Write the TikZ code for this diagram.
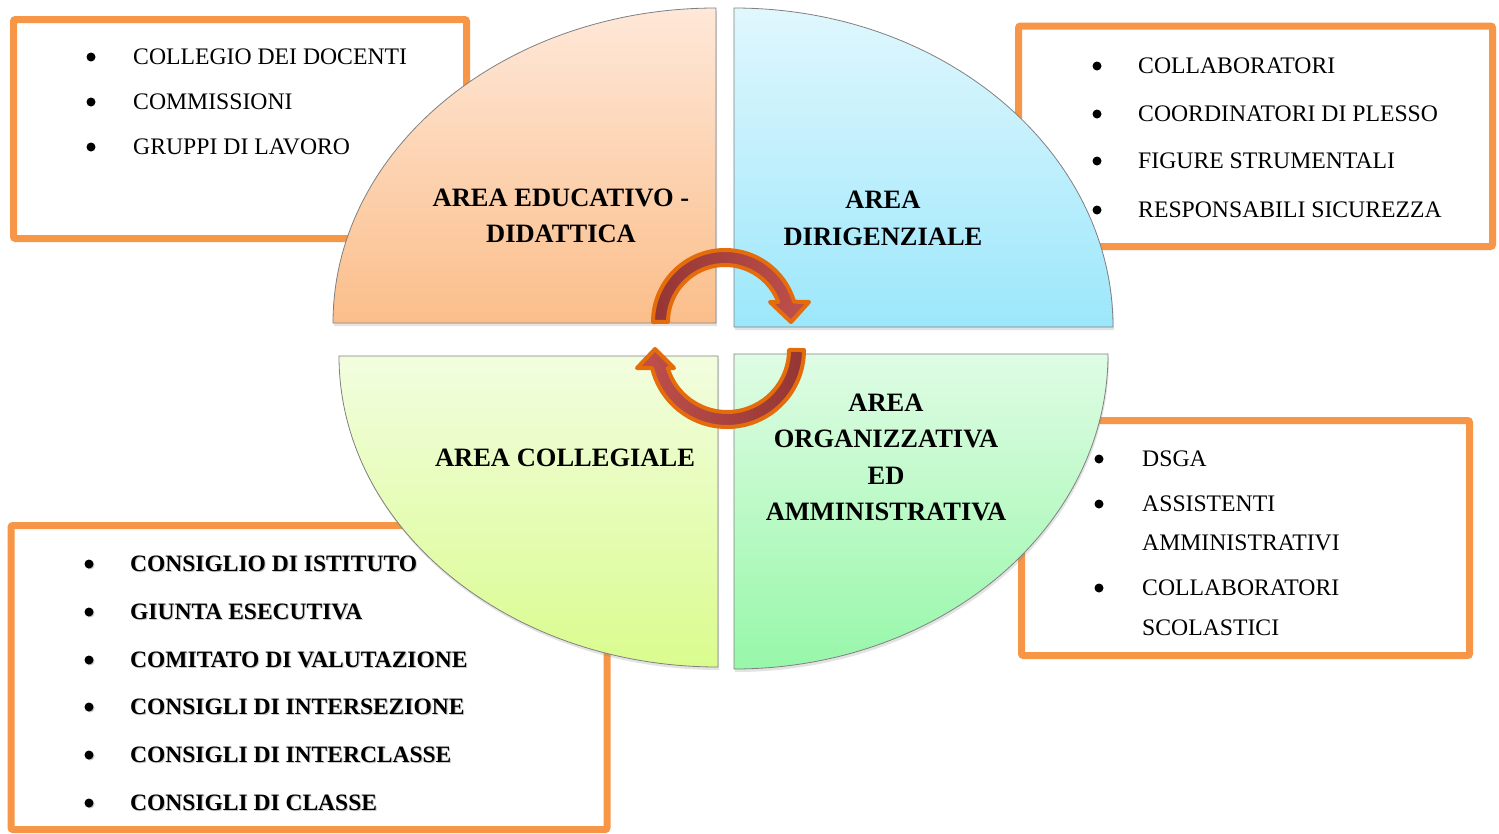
\documentclass[tikz,border=0pt]{standalone}
\usepackage{fontspec}
\setmainfont{Liberation Serif}
\usetikzlibrary{shadows}
\definecolor{boxorange}{HTML}{F79646}
\definecolor{arrowline}{HTML}{E46C0A}
\definecolor{arrowdark}{HTML}{943634}
\definecolor{arrowlight}{HTML}{C0504D}
\definecolor{tlTop}{HTML}{FEE8D9}
\definecolor{tlBot}{HTML}{FBBE8A}
\definecolor{trTop}{HTML}{E0F7FD}
\definecolor{trBot}{HTML}{9CE7FB}
\definecolor{blTop}{HTML}{F2FDDF}
\definecolor{blBot}{HTML}{DAFC8E}
\definecolor{brTop}{HTML}{DFFCE4}
\definecolor{brBot}{HTML}{97F7A9}
\tikzset{
  listbox/.style={draw=boxorange, line width=7pt, rounded corners=2pt},
  quadrant/.style={draw=black!50, line width=0.8pt,
     drop shadow={opacity=0.22, shadow xshift=1pt, shadow yshift=-3pt}},
  listitem/.style={anchor=base west, inner sep=0pt, font=\fontsize{23.7}{28}\selectfont},
  blistitem/.style={listitem, font=\bfseries\fontsize{23.5}{28}\selectfont},
  bshadow/.style={blistitem, text=black!22},
  arealabel/.style={align=center, inner sep=0pt, font=\bfseries\fontsize{26.5}{36.5}\selectfont},
  arrowband/.style={draw=arrowline, line width=4pt, line join=round},
}
\begin{document}
\begin{tikzpicture}[x=1pt,y=-1pt]
\useasboundingbox (0,0) rectangle (1499,833);
\fill[white] (0,0) rectangle (1499,833);

% list boxes
\draw[listbox] (13.5,19.5) rectangle (466.5,238.5);
\draw[listbox] (1018.5,26) rectangle (1492.5,246.5);
\draw[listbox] (1021.5,420.5) rectangle (1469.5,655.5);
\draw[listbox] (11,525.5) rectangle (607,829.5);

% quadrants
\path[quadrant, top color=tlTop, bottom color=tlBot]
  (716,323) -- (333,323) arc[start angle=180, end angle=270, x radius=383, y radius=315] -- cycle;
\path[quadrant, top color=trTop, bottom color=trBot]
  (734,327) -- (734,8) arc[start angle=270, end angle=360, x radius=379, y radius=319] -- cycle;
\path[quadrant, top color=blTop, bottom color=blBot]
  (718,356) -- (339,356) arc[start angle=180, end angle=90, x radius=379, y radius=311] -- cycle;
\path[quadrant, top color=brTop, bottom color=brBot]
  (734,354) -- (734,669) arc[start angle=90, end angle=0, x radius=374, y radius=315] -- cycle;

% circular arrows
\path[arrowband, left color=arrowdark, right color=arrowlight]
  (653,322) arc[start angle=180, end angle=343.6, radius=72]
  -- (809,302) -- (791,322) -- (770,302) -- (778.4,302)
  arc[start angle=339.5, end angle=180, radius=57] -- cycle;
\path[arrowband, left color=arrowlight, right color=arrowdark]
  (804,350) arc[start angle=0, end angle=166.3, radius=77]
  -- (637,368) -- (655,349) -- (674,368) -- (667.7,368)
  arc[start angle=163.1, end angle=0, radius=62] -- cycle;

% area labels
\node[arealabel] (aEd) at (561,216) {AREA EDUCATIVO -\\DIDATTICA};
\node[arealabel] (aDir) at (883,218.5) {AREA\\DIRIGENZIALE};
\node[arealabel] (aCol) at (565,458) {AREA COLLEGIALE};
\node[arealabel] (aOrg) at (886,457.5) {AREA\\ORGANIZZATIVA\\ED\\AMMINISTRATIVA};

% top-left list
\foreach \yy/\tt [count=\i] in {57/COLLEGIO DEI DOCENTI, 102/COMMISSIONI, 147/GRUPPI DI LAVORO}{
  \fill (91,\yy) circle[radius=4.5pt];
  \node[listitem] (tl\i) at (133,\yy+7.8) {\tt};
}
% top-right list
\foreach \yy/\tt [count=\i] in {66/COLLABORATORI, 114/COORDINATORI DI PLESSO, 161/FIGURE STRUMENTALI, 210/RESPONSABILI SICUREZZA}{
  \fill (1097,\yy) circle[radius=4.5pt];
  \node[listitem] (tr\i) at (1138,\yy+7.8) {\tt};
}
% bottom-right list
\foreach \yy in {459,504,588}{ \fill (1099,\yy) circle[radius=4.5pt]; }
\foreach \yy/\tt [count=\i] in {459/DSGA, 504/ASSISTENTI, 543/AMMINISTRATIVI, 588/COLLABORATORI, 628/SCOLASTICI}{
  \node[listitem] (br\i) at (1142,\yy+7.8) {\tt};
}
% bottom-left list (bold, shadowed)
\foreach \yy/\tt [count=\i] in {564/CONSIGLIO DI ISTITUTO, 612/GIUNTA ESECUTIVA, 660/COMITATO DI VALUTAZIONE, 707/CONSIGLI DI INTERSEZIONE, 755/CONSIGLI DI INTERCLASSE, 803/CONSIGLI DI CLASSE}{
  \fill[black!22] (90,\yy+1) circle[radius=4.5pt];
  \fill (89,\yy) circle[radius=4.5pt];
  \node[bshadow] (bls\i) at (131,\yy+8.9) {\tt};
  \node[blistitem] (bl\i) at (130,\yy+7.9) {\tt};
}
\end{tikzpicture}
\end{document}
